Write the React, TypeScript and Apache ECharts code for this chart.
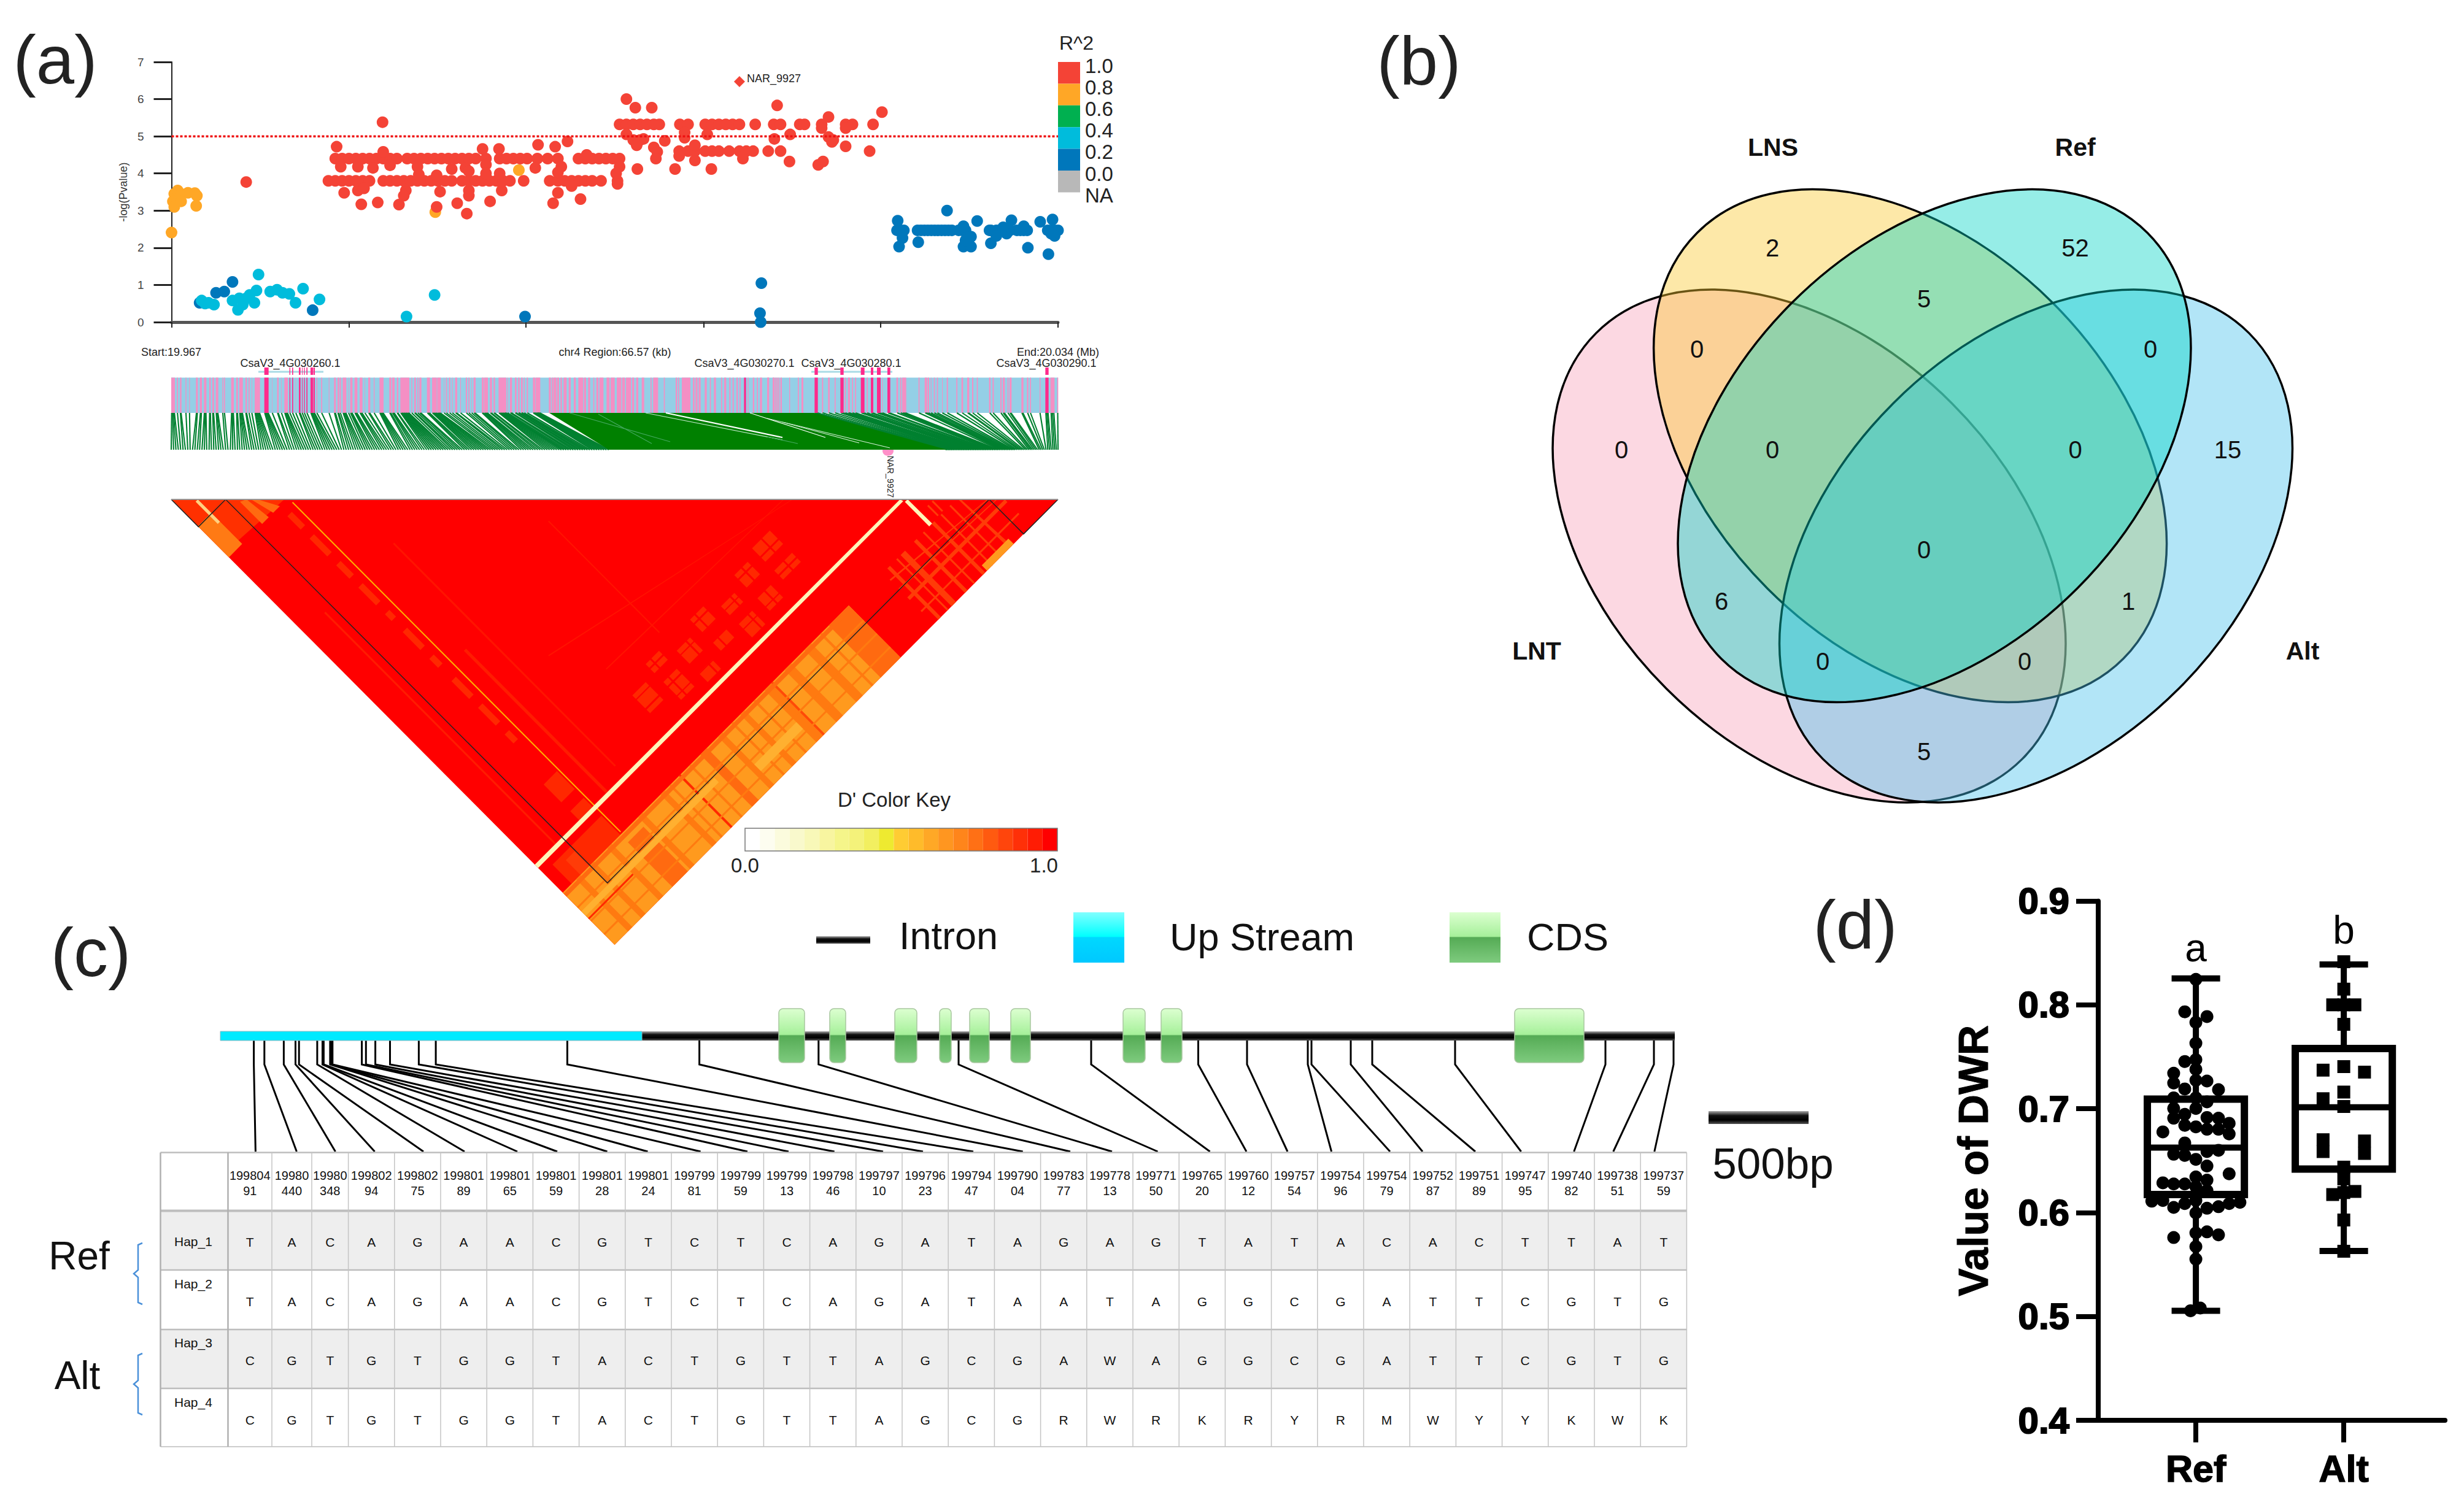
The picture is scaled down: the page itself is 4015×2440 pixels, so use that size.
import React, { useEffect, useRef } from "react";
import * as echarts from "echarts";

const FONT = "'Liberation Sans', Arial, sans-serif";

// ---------- (a) association plot: x in relative region units, y = -log(P)
const RED_ROW_532 = [770,780,790,800,810,820,828,858,870,895,905,915,925,935,945,968,995,1005,1033,1040,1065,1100,1110,1140];
const RED_ROW_460 = [857,870,880,895,905,915,930,945,955,965,987,1005,1135];
const RED_ROW_440 = [355,365,375,385,395,405,415,425,435,445,460,470,480,490,500,510,520,530,540,550,560,575,595,605,615,625,635,650,665,680,710,720,730,740,750,760,770];
const RED_ROW_380 = [345,355,365,375,385,395,405,425,435,445,455,465,475,485,495,505,515,525,540,550,560,570,580,590,600,610,630,668,680,690,700,710,720,730,743,767];
const RED_SCATTER = [
  [780,6.0],[793,5.77],[817,5.77],[1000,5.83],[1153,5.65],[1075,5.52],[424,5.38],[1065,5.22],[1100,5.22],
  [1100,4.73],[880,4.76],[836,4.88],[1019,5.05],[996,4.93],[780,5.05],[790,4.9],[800,4.9],[805,4.93],[795,4.76],
  [865,4.96],[865,5.1],[898,5.05],[1075,4.98],[1082,4.9],[1080,4.85],[820,4.7],[825,4.58],[823,4.4],[857,4.47],
  [880,4.35],[950,4.4],[1018,4.32],[1060,4.23],[1067,4.32],[796,4.12],[851,4.12],[904,4.12],
  [357,4.72],[425,4.58],[570,4.66],[594,4.66],[651,4.77],[676,4.72],[694,4.86],[722,4.5],
  [363,4.18],[388,4.18],[410,4.15],[435,4.22],[475,4.18],[525,4.12],[545,4.15],[575,4.24],[647,4.15],[685,4.18],
  [770,4.18],[765,4.0],[680,4.03],[595,4.0],[575,4.0],[550,4.06],[477,3.97],[503,3.95],[225,3.77],
  [368,3.48],[388,3.54],[397,3.6],[458,3.54],[508,3.51],[550,3.54],[598,3.54],[700,3.66],[767,3.72],
  [680,3.48],[455,3.4],[550,3.4],[713,3.31],[393,3.17],[417,3.22],[448,3.16],[503,3.1],[533,3.2],[581,3.25],[673,3.2],[547,2.92],
];
const ORANGE_POINTS = [[120,3.45],[125,3.54],[130,3.45],[140,3.48],[150,3.47],[153,3.4],[118,3.25],[120,3.1],[130,3.25],[152,3.13],[116,2.41],[623,4.09],[501,2.96]];
const CYAN_POINTS = [[160,0.58],[170,0.52],[178,0.47],[165,0.5],[205,0.58],[215,0.64],[220,0.47],[213,0.33],[225,0.64],[230,0.73],[240,0.85],[243,1.28],[237,0.52],[260,0.82],[270,0.87],[278,0.79],[288,0.76],[297,0.52],[308,0.9],[332,0.61],[459,0.15],[500,0.73]];
const BLUE_LOW_POINTS = [[157,0.52],[181,0.79],[193,0.82],[205,1.08],[322,0.32],[632,0.15],[977,1.05],[975,0.24],[976,0.0]];
const BLUE_ROW_247 = [1175,1180,1185,1205,1210,1215,1220,1225,1230,1235,1240,1245,1250,1255,1265,1270,1275,1310,1320,1325,1330,1340,1350,1355,1360,1365,1395,1400,1405,1410];
const BLUE_SCATTER = [[1176,2.73],[1248,3.0],[1292,2.72],[1342,2.74],[1384,2.7],[1402,2.76],[1178,2.03],[1206,2.15],[1183,2.26],[1272,2.03],[1283,2.03],[1275,2.2],[1283,2.3],[1272,2.58],[1312,2.12],[1312,2.47],[1335,2.38],[1320,2.32],[1330,2.55],[1366,2.0],[1396,1.83],[1405,2.32],[1400,2.38],[1360,2.58]];
const LEAD_SNP = [[945, 6.47]];
const THRESHOLD = 5;
const REGION_TICKS = [116, 375, 633, 893, 1151, 1410];
const R2_COLORS = ["#f44336", "#ffa726", "#00b050", "#00bcdc", "#0077bb", "#b8b8b8"];
const R2_LABELS = ["1.0", "0.8", "0.6", "0.4", "0.2", "0.0", "NA"];

const GENE_LABELS = ["CsaV3_4G030260.1", "CsaV3_4G030270.1", "CsaV3_4G030280.1", "CsaV3_4G030290.1"];
const PINK_A = [[12,30],[40,45],[55,62],[82,86],[100,103],[133,142],[152,162],[172,184],[198,205],[213,221],[230,242],[262,266],[270,275],[305,318],[330,338],[345,362],[375,382],[390,395],[405,407],[420,446],[505,507],[530,537],[550,552],[565,582],[620,622],[722,726],[745,750],[782,785],[808,817],[825,833],[836,842],[850,868],[878,880],[887,898],[908,922],[933,947],[958,960],[975,985],[1002,1006],[1030,1050],[1078,1088],[1092,1104],[1115,1122],[1132,1176],[1186,1190],[1200,1208],[1215,1220],[1225,1235],[1262,1277],[1287,1310],[1312,1330],[1345,1347],[1355,1360],[1370,1376],[1385,1388],[1400,1410],[1425,1428],[1452,1458],[1465,1470],[1480,1482],[1490,1500]];
const HOT_A = [[467,488],[590,594],[603,608],[636,644],[651,654],[661,665],[673,678],[693,705],[707,714]];
const PINK_B = [[30,40],[42,60],[70,80],[88,95],[112,150],[155,158],[168,178],[192,200],[208,215],[222,230],[236,240],[250,256],[280,292],[294,316],[358,368],[372,378],[380,395],[398,408],[415,422],[430,445],[455,465],[480,490],[502,526],[530,540],[550,560],[575,580],[590,600],[605,625],[640,655],[660,680],[690,712],[716,730],[735,760],[765,775],[785,795],[812,824],[855,860],[868,892],[920,925],[978,985],[990,995],[1008,1050],[1062,1070],[1075,1085],[1090,1100],[1120,1130],[1145,1150],[1165,1175],[1200,1205],[1215,1225],[1240,1246],[1256,1262],[1275,1282],[1290,1295],[1330,1334],[1355,1362],[1375,1380],[1390,1400],[1428,1435],[1452,1458],[1465,1470],[1480,1485]];
const HOT_B = [[1312,1322]];
const PINK_C = [[0,8],[28,37],[47,52],[65,72],[108,112],[150,155],[168,177],[268,274],[298,306],[330,335],[380,385],[395,405],[415,420],[430,435],[487,492],[562,565],[632,640],[650,656],[660,680],[740,745],[770,782],[785,792],[800,803],[815,820],[830,835],[855,858],[878,884],[925,930],[950,958],[978,988],[1002,1008],[1025,1030],[1085,1092],[1102,1108],[1140,1146],[1152,1162],[1175,1180],[1185,1195],[1243,1253],[1270,1277],[1285,1290],[1332,1336],[1385,1405],[1418,1423]];
const HOT_C = [[232,248],[358,374],[458,476],[507,519],[537,555],[588,602],[1360,1376]];
const GENE_TRACKS = [[421,527],[1322,1454]];
const GREEN_SLIVERS = [
  [928,673,1092,720,"#44a860",1.2],[975,675,1062,723,"#44a860",1.2],[1052,673,1275,717,"#bfe6c8",1.1],
  [1085,673,1275,713,"#ffffff",2],[1250,682,1450,730,"#d8f0dc",1.1],[1250,712,1300,723,"#44a860",1.1],
  [1222,673,1345,713,"#ffffff",1.2],[1275,688,1400,722,"#d8f0dc",1.1],
];

// ---------- LD triangle, [i1, i2, j1, j2, colour] in SNP rank space
const DEEP = "#ff6a10", MID = "#ff4a08", AMB = "#ff9a1e", LITE = "#ffb030", RED = "#ff0000", HOTR = "#ff2800", SOFT = "#ff3c08";
const LD_BLOCKS = [
  [0,1,0,1,RED],
  [0,0.135,0.0,0.12,"#ff3000"],[0.075,0.09,0.08,0.13,"#ff6a10"],[0.1,0.115,0.08,0.13,"#ff6a10"],[0,0.03,0.06,0.13,"#ff7a14"],[0.025,0.03,0.03,0.08,"#ffd080"],
  [0.02,0.13,0.84,0.883,HOTR],[0.04,0.06,0.85,0.883,SOFT],
  [0.112,0.122,0.15,0.18,HOTR],[0.112,0.122,0.2,0.24,HOTR],[0.112,0.122,0.26,0.29,HOTR],[0.112,0.122,0.31,0.35,HOTR],[0.112,0.122,0.37,0.385,HOTR],[0.112,0.122,0.41,0.45,HOTR],[0.112,0.122,0.47,0.49,HOTR],[0.112,0.122,0.52,0.56,HOTR],[0.112,0.122,0.58,0.62,HOTR],[0.112,0.122,0.64,0.66,HOTR],
  [0.1325,0.1345,0.14,0.88,"#ffb000"],
  [0.1,0.13,0.74,0.78,HOTR],[0.1,0.13,0.8,0.82,HOTR],[0.16,0.165,0.5,0.82,"#ff1c00"],[0.045,0.048,0.3,0.82,"#ff1c00"],
  [0.6,0.64,0.71,0.74,HOTR],[0.6,0.64,0.76,0.78,HOTR],[0.55,0.58,0.72,0.75,HOTR],[0.55,0.58,0.77,0.8,HOTR],[0.5,0.53,0.74,0.76,HOTR],[0.5,0.53,0.78,0.81,HOTR],[0.45,0.48,0.72,0.75,HOTR],[0.45,0.48,0.77,0.79,HOTR],[0.4,0.43,0.74,0.77,HOTR],[0.4,0.43,0.79,0.81,HOTR],[0.35,0.38,0.72,0.74,HOTR],[0.35,0.38,0.76,0.8,HOTR],[0.3,0.33,0.74,0.78,HOTR],
  [0.28,0.645,0.728,0.731,RED],[0.28,0.645,0.748,0.75,RED],[0.28,0.645,0.769,0.772,RED],[0.28,0.645,0.79,0.792,RED],
  [0.36,0.363,0.71,0.81,RED],[0.42,0.423,0.71,0.81,RED],[0.46,0.463,0.71,0.81,RED],[0.52,0.523,0.71,0.81,RED],[0.565,0.568,0.71,0.81,RED],[0.62,0.623,0.71,0.81,RED],
  [0.2,0.203,0.3,0.8,"#ff1400"],[0.4,0.402,0.45,0.7,"#ff1400"],[0.25,0.8,0.6,0.602,"#ff1400"],[0.3,0.7,0.68,0.682,"#ff1400"],
  [0,0.645,0.883,1,AMB],
  [0.6,0.645,0.883,1,DEEP],[0.545,0.56,0.883,1,"#ff7a10"],[0.5,0.515,0.883,1,"#ff7a10"],[0.455,0.47,0.883,1,"#ff7a10"],[0.47,0.474,0.883,1,MID],[0.4,0.41,0.883,1,"#ff7a10"],[0.35,0.36,0.883,1,"#ff7a10"],[0.31,0.325,0.883,1,DEEP],[0.262,0.266,0.883,1,"#ff2a00"],[0.22,0.23,0.883,1,"#ff7a10"],[0.17,0.18,0.883,1,"#ff7a10"],[0.13,0.165,0.9,1,DEEP],[0.1,0.11,0.883,1,"#ff7a10"],[0.06,0.07,0.883,1,"#ff7a10"],[0.03,0.04,0.883,1,"#ff7a10"],
  [0.24,0.244,0.883,1,"#ff7a10"],[0.285,0.289,0.883,1,"#ff7a10"],[0.38,0.384,0.883,1,"#ff7a10"],[0.43,0.434,0.883,1,"#ff7a10"],[0.58,0.584,0.883,1,"#ff7a10"],
  [0,0.645,0.885,0.892,DEEP],[0,0.645,0.915,0.918,"#ff7a10"],[0,0.645,0.945,0.948,"#ff7a10"],[0,0.645,0.975,0.978,"#ff7a10"],[0,0.3,0.925,0.935,LITE],[0,0.1,0.94,0.943,"#ff2a00"],[0.36,0.455,0.955,0.97,LITE],
  [0.73,0.736,0.885,1,SOFT],[0.75,0.753,0.885,1,SOFT],[0.76,0.77,0.885,1,SOFT],[0.79,0.796,0.885,1,SOFT],[0.81,0.813,0.885,1,SOFT],[0.83,0.836,0.885,1,SOFT],[0.85,0.853,0.885,1,SOFT],[0.87,0.873,0.885,1,SOFT],[0.89,0.896,0.885,1,SOFT],
  [0.72,0.94,0.9,0.903,SOFT],[0.72,0.94,0.92,0.923,SOFT],[0.72,0.94,0.94,0.946,SOFT],[0.72,0.94,0.97,0.973,SOFT],[0.84,0.9,0.988,1,AMB],[0.845,0.848,0.86,0.883,SOFT],[0.855,0.858,0.86,0.883,SOFT],
  [0,0.8236,0.82,0.8275,"#fff5b8"],[0.8245,0.831,0.83,0.885,"#fff5b8"],
];
const LD_OUTLINES = [
  [[0.0614,0.0614],[0.0614,0.9224],[0.9224,0.9224]],
  [[0,0],[0,0.0614],[0.0614,0.0614]],
  [[0.9224,0.9224],[0.9224,1],[1,1]],
];
const KEY_COLORS = ["#ffffff","#fdfdf0","#fbfbdd","#f9f9cc","#f8f8b8","#f8f5a0","#f5f58a","#f4f27a","#f2ef60","#eeea30","#ffcc33","#ffbb2a","#ffa826","#ff9620","#ff851b","#ff7015","#ff5a10","#ff450c","#ff3008","#ff1c04","#ff0000"];

// ---------- (b) Venn
const VENN_SETS = [
  { name: "LNT", cx: 2948, cy: 890, rot: -1, fill: "rgba(248,162,186,0.42)" },
  { name: "LNS", cx: 3112.6, cy: 726.6, rot: -1, fill: "rgba(250,200,48,0.42)" },
  { name: "Alt", cx: 3317.5, cy: 890, rot: 1, fill: "rgba(72,193,236,0.42)" },
  { name: "Ref", cx: 3152, cy: 726.6, rot: 1, fill: "rgba(0,211,196,0.412)" },
];
const VENN_NAMES = [["LNS",2889,239.5],["Ref",3381.6,239.5],["LNT",2504,1061],["Alt",3752,1061]];
const VENN_COUNTS = [["2",2888,404],["52",3381.6,404],["5",3135,487],["0",2765,569],["0",3504,569],["0",2642,733],["0",2888,733],["0",3381.6,733],["15",3630,733],["0",3135,896],["6",2805,980],["1",3468,980],["0",2970,1078],["0",3299,1078],["5",3135,1225]];

// ---------- (c) gene model and haplotype table
const EXONS = [[1269,1311],[1352,1378],[1458,1494],[1531,1550],[1580,1612],[1647,1679],[1830,1866],[1892,1926],[2468,2581]];
const SNP_TOPS = [413.6,430.8,462.4,481.5,487.2,516.9,525.5,527.4,537.9,539.9,541.8,589.6,596.3,611.6,635.5,682.4,710.1,924.4,1139.6,1333.8,1562,1778,1952.5,2032,2131,2137,2201,2236,2371,2616,2695,2727];
const SNP_BOTTOMS = [416.4,483.4,546.5,610.6,690,757,843,908,989.5,1055.5,1141.6,1218,1285,1359.7,1439,1504,1586,1666.7,1744,1812,1886.5,1971.6,2031,2098,2169.6,2265,2318,2404,2478.6,2564.7,2628.8,2695.8];
const HEAD_1 = ["199804","19980","19980","199802","199802","199801","199801","199801","199801","199801","199799","199799","199799","199798","199797","199796","199794","199790","199783","199778","199771","199765","199760","199757","199754","199754","199752","199751","199747","199740","199738","199737"];
const HEAD_2 = ["91","440","348","94","75","89","65","59","28","24","81","59","13","46","10","23","47","04","77","13","50","20","12","54","96","79","87","89","95","82","51","59"];
const HAP_NAMES = ["Hap_1","Hap_2","Hap_3","Hap_4"];
const HAP_SEQS = [
  "TACAGAACGTCTCAGATAGAGTATACACTTAT",
  "TACAGAACGTCTCAGATAATAGGCGATTCGTG",
  "CGTGTGGTACTGTTAGCGAWAGGCGATTCGTG",
  "CGTGTGGTACTGTTAGCGRWRKRYRMWYYKWK",
];
const ROW_EDGES = [1878.5,1973.5,2070,2167,2263,2358];
const HAP_LABEL_Y = [2023,2092,2188,2285];
const HAP_BASE_Y = [2024,2121,2217,2314];
const FIRST_COL_EDGES = [261.5,371.5,443,508,567.6];

// ---------- (d) box plot: [q1, median, q3, low, high]
const GROUPS = ["Ref", "Alt"];
const BOX_STATS = [[0.6174,0.6626,0.7093,0.5055,0.8255],[0.6419,0.7014,0.758,0.5631,0.839]];
const REF_POINTS = [
  [0.964,0.5055],[1.03,0.5081],[1,0.5552],[1,0.5673],[1,0.5805],[1.075,0.5815],[1.153,0.5786],[0.85,0.576],
  [0.702,0.611],[0.777,0.6117],[0.85,0.605],[0.925,0.6087],[1,0.5997],[1.075,0.6042],[1.153,0.6057],[1.225,0.6087],[1.298,0.6099],[1,0.6117],
  [0.777,0.6287],[0.85,0.6276],[0.925,0.6276],[1,0.6344],[1.075,0.6313],[1,0.625],[1.075,0.6212],[1.225,0.6374],
  [1.075,0.6449],[1,0.6513],[0.925,0.6551],[0.85,0.6562],[1.075,0.6588],[1.153,0.66],[0.925,0.6671],
  [1,0.6826],[0.925,0.6841],[1.075,0.6803],[1.153,0.6803],[1.225,0.6758],[0.777,0.6777],[0.85,0.6909],[0.925,0.6946],[1.075,0.6916],[1.153,0.6909],[1.225,0.686],
  [0.85,0.7003],[1,0.7003],[0.85,0.7105],[1,0.7105],[1.075,0.7067],[0.85,0.7248],[0.925,0.7191],[1,0.7274],[1.075,0.7267],[1.153,0.7184],[0.85,0.7342],[1,0.738],[0.925,0.7455],[1,0.7474],[1,0.7632],[1,0.7832],[0.925,0.7934],[1.075,0.7888],[1,0.8246],
];
const ALT_POINTS = [
  [2,0.8416],[2,0.8152],[1.925,0.8001],[2,0.8001],[2.075,0.8001],[2,0.7813],[1.86,0.7372],[2,0.7406],[2.14,0.7353],[2,0.7161],[1.86,0.7097],[2,0.7022],
  [1.86,0.6702],[1.86,0.6588],[2.14,0.669],[2.14,0.657],[2,0.6438],[2,0.6325],[1.925,0.6174],[2,0.6193],[2.075,0.6204],[2,0.5929],[2,0.5628],
];
const PANEL_LETTERS = [["(a)",90,97],["(b)",2312,99],["(c)",148,1552],["(d)",3023,1507]];

// ---------- helpers
const txt = (x: number, y: number, text: string, size: number, o: any = {}) => ({
  type: "text", x, y, rotation: o.rotation || 0, silent: true,
  style: {
    text, fill: o.color || "#111", fontSize: size, fontFamily: FONT, fontWeight: o.weight || "normal",
    align: o.align || "center", verticalAlign: "middle", textAlign: o.align || "center", textVerticalAlign: "middle",
  },
});

function buildOption() {
  const grids: any[] = [], xAxes: any[] = [], yAxes: any[] = [], series: any[] = [];
  const pagePanel = (left: number, top: number, w: number, h: number) => {
    grids.push({ left, top, width: w, height: h });
    xAxes.push({ type: "value", gridIndex: grids.length - 1, min: left, max: left + w, show: false });
    yAxes.push({ type: "value", gridIndex: grids.length - 1, min: top, max: top + h, inverse: true, show: false });
    return grids.length - 1;
  };
  const custom = (g: number, items: any[], z: number, fn: (it: any, api: any, i: number) => any) => {
    series.push({
      type: "custom", coordinateSystem: "cartesian2d", xAxisIndex: g, yAxisIndex: g, silent: true, z, clip: false,
      data: items.map((_, i) => [i, 0]), progressive: 0,
      renderItem: (p: any, api: any) => fn(items[p.dataIndex], api, p.dataIndex),
    });
  };

  // ---- Manhattan
  grids.push({ left: 279.5, top: 101, width: 1444.5, height: 424 });
  xAxes.push({
    type: "value", gridIndex: 0, min: 116, max: 1410, splitLine: { show: false },
    axisLine: { show: true, lineStyle: { color: "#555", width: 5 } },
    axisTick: { show: true, length: 9, customValues: REGION_TICKS, lineStyle: { color: "#222", width: 2 } },
    axisLabel: { show: false },
  });
  yAxes.push({
    type: "value", gridIndex: 0, min: 0, max: 7, interval: 1, splitLine: { show: false },
    axisLine: { show: true, onZero: false, lineStyle: { color: "#222", width: 2 } },
    axisTick: { show: true, length: 29, lineStyle: { color: "#222", width: 3 } },
    axisLabel: { fontSize: 19, color: "#444", fontFamily: FONT, margin: 45, padding: [0, 0, 17, 0] },
    name: "-log(Pvalue)", nameLocation: "middle", nameRotate: 90, nameGap: 70,
    nameTextStyle: { fontSize: 18, color: "#333", fontFamily: FONT },
  });
  const dots = (data: number[][], color: string, z = 5) =>
    series.push({ type: "scatter", xAxisIndex: 0, yAxisIndex: 0, data, symbol: "circle", symbolSize: 19, itemStyle: { color, opacity: 1 }, silent: true, z, clip: false });
  dots([
    ...RED_ROW_532.map((x) => [x, 5.32]), ...RED_ROW_460.map((x) => [x, 4.6]),
    ...RED_ROW_440.map((x) => [x, 4.4]), ...RED_ROW_380.map((x) => [x, 3.8]), ...RED_SCATTER,
  ], R2_COLORS[0], 6);
  dots(ORANGE_POINTS, R2_COLORS[1], 5);
  dots(CYAN_POINTS, R2_COLORS[3], 6);
  dots(BLUE_LOW_POINTS, R2_COLORS[4], 5);
  dots([...BLUE_ROW_247.map((x) => [x, 2.47]), ...BLUE_SCATTER], R2_COLORS[4], 5);
  series.push({
    type: "scatter", xAxisIndex: 0, yAxisIndex: 0, data: LEAD_SNP, symbol: "diamond", symbolSize: 18, itemStyle: { color: "#f44336", opacity: 1 }, silent: true, z: 7,
    label: { show: true, position: "right", distance: 3, offset: [0, -5], formatter: "NAR_9927", fontSize: 18, color: "#222", fontFamily: FONT },
  });
  series.push({
    type: "line", xAxisIndex: 0, yAxisIndex: 0, data: [[116, THRESHOLD], [1410, THRESHOLD]], symbol: "none", silent: true, z: 8,
    lineStyle: { color: "#ee1111", width: 3.5, type: [4, 3] },
  });

  // ---- (d) box plot
  grids.push({ left: 3419, top: 1468.7, width: 565, height: 846.3 });
  const gd = grids.length - 1;
  xAxes.push({
    type: "value", gridIndex: gd, min: 0.34, max: 2.684, splitLine: { show: false },
    axisLine: { show: true, lineStyle: { color: "#000", width: 8 } },
    axisTick: { show: true, length: 36, customValues: [1, 2], lineStyle: { color: "#000", width: 8 } },
    axisLabel: {
      customValues: [1, 2], formatter: (v: number) => GROUPS[v - 1], fontSize: 61, fontWeight: "bold", color: "#000", fontFamily: FONT, margin: 48,
      textBorderColor: "#000", textBorderWidth: 1.5,
    },
  });
  yAxes.push({
    type: "value", gridIndex: gd, min: 0.4, max: 0.9, interval: 0.1, splitLine: { show: false },
    axisLine: { show: true, onZero: false, lineStyle: { color: "#000", width: 8 } },
    axisTick: { show: true, length: 36, lineStyle: { color: "#000", width: 8 } },
    axisLabel: { formatter: (v: number) => v.toFixed(1), fontSize: 60, fontWeight: "bold", color: "#000", fontFamily: FONT, margin: 47, textBorderColor: "#000", textBorderWidth: 2 },
    name: "Value of DWR", nameLocation: "middle", nameRotate: 90, nameGap: 170,
    nameTextStyle: { fontSize: 68, fontWeight: "bold", color: "#000", fontFamily: FONT, textBorderColor: "#000", textBorderWidth: 1 },
  });
  custom(gd, BOX_STATS, 5, (b, api, i) => {
    const cx = i + 1, hw = 0.328, cap = 0.164;
    const [q1, m, q3, lo, hi] = b;
    const P = (x: number, y: number) => api.coord([x, y]);
    const a = P(cx - hw, q3), c = P(cx + hw, q1);
    const seg = (p: number[], q: number[]) => ({ type: "line", shape: { x1: p[0], y1: p[1], x2: q[0], y2: q[1] }, style: { stroke: "#000", lineWidth: 10 } });
    return {
      type: "group",
      children: [
        { type: "rect", shape: { x: a[0], y: a[1], width: c[0] - a[0], height: c[1] - a[1] }, style: { fill: "none", stroke: "#000", lineWidth: 12 } },
        seg(P(cx - hw, m), P(cx + hw, m)),
        seg(P(cx, q3), P(cx, hi)), seg(P(cx, q1), P(cx, lo)),
        seg(P(cx - cap, hi), P(cx + cap, hi)), seg(P(cx - cap, lo), P(cx + cap, lo)),
      ],
    };
  });
  series.push({ type: "scatter", xAxisIndex: gd, yAxisIndex: gd, data: REF_POINTS, symbol: "circle", symbolSize: 21, itemStyle: { color: "#000", opacity: 1 }, silent: true, z: 6 });
  series.push({ type: "scatter", xAxisIndex: gd, yAxisIndex: gd, data: ALT_POINTS, symbol: "rect", symbolSize: 21, itemStyle: { color: "#000", opacity: 1 }, silent: true, z: 6 });

  // ---- page-scale panels
  const pg = pagePanel(0, 0, 4015, 2440);

  custom(pg, PANEL_LETTERS, 10, (l) => txt(l[1], l[2], l[0], 112, { color: "#222" }));

  // R^2 legend
  custom(pg, R2_COLORS, 3, (c, _a, i) => {
    const p = _a.coord([1724, 101 + i * 35.4]), q = _a.coord([1760, 101 + (i + 1) * 35.4]);
    return { type: "rect", shape: { x: p[0], y: p[1], width: q[0] - p[0], height: q[1] - p[1] }, style: { fill: c } };
  });
  custom(pg, R2_LABELS, 4, (l, _a, i) => txt(1768, 107 + i * 35.2, l, 33, { align: "left", color: "#222" }));
  custom(pg, ["R^2"], 4, (l) => txt(1726, 70, l, 32, { align: "left", color: "#222" }));

  // header texts of the LD panel
  custom(pg, [["Start:19.967", 279, 574], ["chr4 Region:66.57 (kb)", 1002, 574], ["End:20.034 (Mb)", 1724, 574]], 4, (l) => txt(l[1], l[2], l[0], 18, { color: "#222" }));
  custom(pg, [[GENE_LABELS[0], 473], [GENE_LABELS[1], 1213], [GENE_LABELS[2], 1387], [GENE_LABELS[3], 1705]], 4, (l) => txt(l[1], 592, l[0], 18, { color: "#222" }));

  // SNP band
  const toPage = (list: number[][], off: number) => list.map(([a, b]) => [off + a / 3, off + b / 3]);
  const PINK = [...toPage(PINK_A, 275), ...toPage(PINK_B, 775), ...toPage(PINK_C, 1250)];
  const HOT = [...toPage(HOT_A, 275), ...toPage(HOT_B, 775), ...toPage(HOT_C, 1250)];
  const rectEl = (api: any, x1: number, y1: number, x2: number, y2: number, fill: any, extra: any = {}) => {
    const p = api.coord([x1, y1]), q = api.coord([x2, y2]);
    return { type: "rect", shape: { x: p[0], y: p[1], width: q[0] - p[0], height: q[1] - p[1], ...(extra.shape || {}) }, style: { fill, ...(extra.style || {}) } };
  };
  custom(pg, [0], 2, (_i, api) => rectEl(api, 279, 615.5, 1724, 673, "#94cfe6"));
  custom(pg, PINK, 3, (s, api) => rectEl(api, s[0], 615.5, s[1], 673, "#f48fc4"));
  custom(pg, HOT, 4, (s, api) => rectEl(api, s[0], 615.5, s[1], 673, "#ff2a8c"));
  custom(pg, GENE_TRACKS, 3, (t, api) => rectEl(api, t[0], 604.5, t[1], 607.5, "#a9dbe6"));
  custom(pg, HOT.filter((s) => s[0] < 515 || s[0] > 1320), 4, (s, api) => rectEl(api, s[0], 599, s[1], 611, "#ff2a8c"));

  // SNP connector fan
  const spans = [...PINK, ...HOT].sort((u, v) => u[0] - v[0]);
  const expand = (list: number[][], step: number) => {
    const out: number[] = [];
    list.forEach(([a, b]) => {
      const n = Math.max(1, Math.round((b - a) / step));
      for (let k = 0; k < n; k++) out.push(a + ((b - a) * (k + 0.5)) / n);
    });
    return out;
  };
  const left = expand(spans.filter((s) => s[1] <= 895), 1.45);
  const right = expand(spans.filter((s) => s[0] >= 1327), 2);
  const fan = [
    ...left.map((t, i) => [t, 279 + ((992 - 279) * i) / (left.length - 1)]),
    ...right.map((t, i) => [t, 1543 + ((1724 - 1543) * i) / (right.length - 1)]),
  ];
  custom(pg, fan, 3, (f, api) => {
    const p = api.coord([f[0], 673]), q = api.coord([f[1], 733]);
    return { type: "line", shape: { x1: p[0], y1: p[1], x2: q[0], y2: q[1] }, style: { stroke: "#008030", lineWidth: 2.1 } };
  });
  custom(pg, [[[895, 673], [1327, 673], [1543, 733], [992, 733]]], 4, (pts, api) => ({
    type: "polygon", shape: { points: pts.map((p: number[]) => api.coord(p)) }, style: { fill: "#008000" },
  }));
  custom(pg, GREEN_SLIVERS, 5, (s, api) => {
    const p = api.coord([s[0], s[1]]), q = api.coord([s[2], s[3]]);
    return { type: "line", shape: { x1: p[0], y1: p[1], x2: q[0], y2: q[1] }, style: { stroke: s[4], lineWidth: s[5] } };
  });
  custom(pg, [[1447, 735]], 2, (m, api) => {
    const p = api.coord(m);
    return { type: "ellipse", shape: { cx: p[0], cy: p[1], rx: 9, ry: 8 }, style: { fill: "#ff90c8" } };
  });
  custom(pg, ["NAR_9927"], 4, (l) => txt(1451, 777, l, 14, { rotation: -Math.PI / 2, color: "#222" }));

  // D' colour key
  custom(pg, KEY_COLORS, 3, (c, api, i) => rectEl(api, 1214 + i * 24.24, 1350, 1214 + (i + 1) * 24.24, 1387, c));
  custom(pg, [0], 4, (_v, api) => rectEl(api, 1214, 1350, 1723, 1387, "none", { style: { stroke: "#777", lineWidth: 1.5 } }));
  custom(pg, [["D' Color Key", 1457, 1303, 33], ["0.0", 1214, 1410, 33], ["1.0", 1701, 1410, 33]], 4, (l) => txt(l[1], l[2], l[0], l[3], { color: "#222" }));

  // ---- Venn
  custom(pg, VENN_SETS, 5, (s, api, i) => {
    const p = api.coord([s.cx, s.cy]);
    return {
      type: "ellipse", x: p[0], y: p[1], rotation: (s.rot * Math.PI) / 4, z2: i,
      shape: { cx: 0, cy: 0, rx: 491, ry: 329 }, style: { fill: s.fill, stroke: "#000", lineWidth: 3.5 },
    };
  });
  custom(pg, VENN_NAMES, 6, (l) => txt(l[1], l[2], l[0], 41, { weight: "bold", color: "#111" }));
  custom(pg, VENN_COUNTS, 6, (l) => txt(l[1], l[2], l[0], 40, { color: "#111" }));

  // ---- gene model
  const intronGrad = () => new echarts.graphic.LinearGradient(0, 0, 0, 1, [{ offset: 0, color: "#aaaaaa" }, { offset: 0.35, color: "#111111" }, { offset: 0.7, color: "#000000" }, { offset: 1, color: "#555555" }]);
  const cdsGrad = () => new echarts.graphic.LinearGradient(0, 0, 0, 1, [{ offset: 0, color: "#dcffd0" }, { offset: 0.48, color: "#a6f09a" }, { offset: 0.5, color: "#55ab55" }, { offset: 1, color: "#7ecb7e" }]);
  const cyanGrad = () => new echarts.graphic.LinearGradient(0, 0, 0, 1, [{ offset: 0, color: "#80ffff" }, { offset: 0.48, color: "#00ffff" }, { offset: 0.5, color: "#00d8ff" }, { offset: 1, color: "#00c8ff" }]);
  custom(pg, SNP_TOPS, 2, (t, api, i) => {
    const pts = [[t, 1696], [t, 1735], [SNP_BOTTOMS[i], 1877]].map((p) => api.coord(p));
    return { type: "polyline", shape: { points: pts }, style: { stroke: "#000", lineWidth: 3, fill: "none" } };
  });
  custom(pg, [0], 3, (_v, api) => rectEl(api, 1046, 1681, 2729, 1696, intronGrad()));
  custom(pg, [0], 3, (_v, api) => rectEl(api, 359, 1681, 1046, 1696, "#00eaff", { style: { stroke: "#8fb8c0", lineWidth: 1 } }));
  custom(pg, EXONS, 4, (e, api) => rectEl(api, e[0], 1644, e[1], 1732, cdsGrad(), { shape: { r: 7 }, style: { stroke: "#a9c7a0", lineWidth: 1.5 } }));
  custom(pg, [0], 3, (_v, api) => rectEl(api, 1330, 1526, 1418, 1538, intronGrad()));
  custom(pg, [0], 3, (_v, api) => rectEl(api, 1749, 1487, 1832, 1569, cyanGrad()));
  custom(pg, [0], 3, (_v, api) => rectEl(api, 2362, 1487, 2445, 1569, cdsGrad()));
  custom(pg, [["Intron", 1465, 1525], ["Up Stream", 1906, 1527], ["CDS", 2488, 1527]], 4, (l) => txt(l[1], l[2], l[0], 63, { align: "left", color: "#111" }));
  custom(pg, [0], 3, (_v, api) => rectEl(api, 2784, 1811, 2947, 1832, intronGrad()));
  custom(pg, ["500bp"], 4, (l) => txt(2889, 1896, l, 71, { color: "#111" }));

  // ---- haplotype table
  const colEdges = [...FIRST_COL_EDGES];
  HEAD_1.slice(3).forEach(() => colEdges.push(colEdges[colEdges.length - 1] + 75.2));
  const tableRight = colEdges[colEdges.length - 1];
  custom(pg, [0, 2], 2, (r, api) => rectEl(api, 261.5, ROW_EDGES[r + 1], tableRight, ROW_EDGES[r + 2], "#eeeeee"));
  custom(pg, ROW_EDGES, 3, (y, api, i) => {
    const p = api.coord([261.5, y]), q = api.coord([tableRight, y]);
    return { type: "line", shape: { x1: p[0], y1: p[1], x2: q[0], y2: q[1] }, style: { stroke: "#bdbdbd", lineWidth: i === 1 ? 4 : i === 5 ? 1.5 : 2.5 } };
  });
  custom(pg, colEdges, 3, (x, api, i) => {
    const p = api.coord([x, ROW_EDGES[0]]), q = api.coord([x, ROW_EDGES[5]]);
    return { type: "line", shape: { x1: p[0], y1: p[1], x2: q[0], y2: q[1] }, style: { stroke: i < 2 ? "#b0b0b0" : "#c4c4c4", lineWidth: i < 2 ? 2.5 : 1.5 } };
  });
  const colMid = (c: number) => (colEdges[c + 1] + colEdges[c + 2]) / 2;
  custom(pg, HEAD_1, 4, (t, _a, c) => txt(colMid(c), 1916, t, 20, { color: "#111" }));
  custom(pg, HEAD_2, 4, (t, _a, c) => txt(colMid(c), 1940.5, t, 20, { color: "#111" }));
  custom(pg, HAP_NAMES, 4, (t, _a, r) => txt(284, HAP_LABEL_Y[r], t, 21, { align: "left", color: "#111" }));
  HAP_SEQS.forEach((seq, r) => custom(pg, seq.split(""), 4, (b, _a, c) => txt(colMid(c), HAP_BASE_Y[r], b, 21, { color: "#111" })));
  custom(pg, [["Ref", 129, 2047], ["Alt", 126, 2242]], 4, (l) => txt(l[1], l[2], l[0], 64, { color: "#111" }));
  custom(pg, [2026, 2206], 4, (y, api) => {
    const pts = [[232, y], [225, y + 3], [225, y + 44], [218, y + 50], [225, y + 56], [225, y + 97], [232, y + 100]].map((p) => api.coord(p));
    return { type: "polyline", shape: { points: pts }, style: { stroke: "#4a90d9", lineWidth: 2.5, fill: "none" } };
  });

  // (d) significance letters
  custom(pg, [["a", 3578, 1545], ["b", 3819, 1516]], 7, (l) => txt(l[1], l[2], l[0], 64, { color: "#000" }));

  // ---- LD triangle in rank space
  grids.push({ left: 279, top: 814, width: 1445, height: 726 });
  const ld = grids.length - 1;
  xAxes.push({ type: "value", gridIndex: ld, min: 0, max: 1, show: false });
  yAxes.push({ type: "value", gridIndex: ld, min: 0, max: 1, inverse: true, show: false });
  const ldPoint = (api: any, i: number, j: number) => {
    if (j < i) i = j = (i + j) / 2;
    return api.coord([(i + j) / 2, j - i]);
  };
  custom(ld, LD_BLOCKS, 3, (b, api) => ({
    type: "polygon",
    shape: { points: [ldPoint(api, b[0], b[2]), ldPoint(api, b[1], b[2]), ldPoint(api, b[1], b[3]), ldPoint(api, b[0], b[3])] },
    style: { fill: b[4] },
  }));
  custom(ld, LD_OUTLINES, 4, (pts, api) => ({
    type: "polyline", shape: { points: pts.map((p: number[]) => ldPoint(api, p[0], p[1])) }, style: { stroke: "#222", lineWidth: 1.5, fill: "none" },
  }));
  custom(ld, [0], 4, (_v, api) => {
    const p = api.coord([0, 0]), q = api.coord([1, 0]);
    return { type: "line", shape: { x1: p[0], y1: p[1], x2: q[0], y2: q[1] }, style: { stroke: "#999", lineWidth: 2 } };
  });

  return { animation: false, backgroundColor: "#fff", tooltip: { show: false }, grid: grids, xAxis: xAxes, yAxis: yAxes, series };
}

export default function App() {
  const ref = useRef<HTMLDivElement>(null);
  useEffect(() => {
    const chart = echarts.init(ref.current!, null, { renderer: "svg" });
    chart.setOption(buildOption() as any);
    return () => chart.dispose();
  }, []);
  return <div ref={ref} style={{ position: "absolute", left: 0, top: 0, width: 4015, height: 2440 }} />;
}
